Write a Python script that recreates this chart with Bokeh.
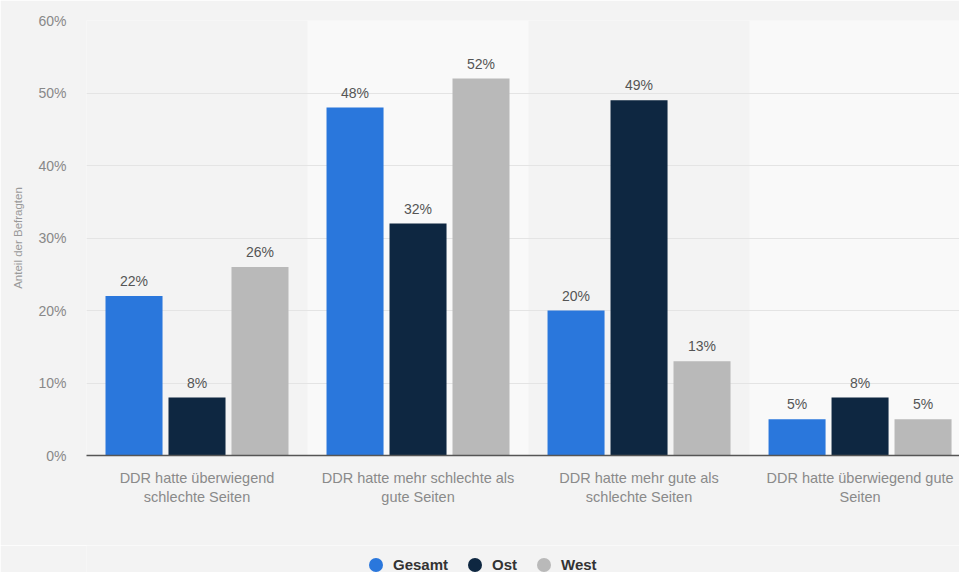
from bokeh.plotting import figure
from bokeh.layouts import column
from bokeh.models import (ColumnDataSource, FixedTicker, PrintfTickFormatter,
                          Legend, LegendItem, Range1d)
from bokeh.transform import dodge
from bokeh.embed import file_html
from bokeh.resources import INLINE
from bokeh.core.properties import value

# ---- data ----
categories = [
    "DDR hatte überwiegend\nschlechte Seiten",
    "DDR hatte mehr schlechte als\ngute Seiten",
    "DDR hatte mehr gute als\nschlechte Seiten",
    "DDR hatte überwiegend gute\nSeiten",
]
series = ["Gesamt", "Ost", "West"]
gesamt = [22, 48, 20, 5]
ost = [8, 32, 49, 8]
west = [26, 52, 13, 5]
y_ticks = [0, 10, 20, 30, 40, 50, 60]

colors = ["#2a77dc", "#0e2741", "#b9b9b9"]
FONT = "Liberation Sans"
BG = "#f3f3f3"

xc = [i + 0.5 for i in range(len(categories))]
data = dict(x=xc, Gesamt=gesamt, Ost=ost, West=west,
            lo=[i for i in range(len(categories))],
            hi=[i + 1 for i in range(len(categories))])
for s in series:
    data[s + "_lbl"] = [f"{v}%" for v in data[s]]
src = ColumnDataSource(data)

chart = figure(width=959, height=545, output_backend="svg", toolbar_location=None,
               x_range=Range1d(0, 3.95), y_range=Range1d(0, 60),
               min_border_left=86, min_border_right=0, min_border_top=20,
               min_border_bottom=90)
chart.background_fill_color = BG
chart.border_fill_color = BG
chart.outline_line_color = None

# alternating category bands
band_src = ColumnDataSource(dict(lo=[data["lo"][i] for i in (1, 3)],
                                 hi=[data["hi"][i] for i in (1, 3)]))
chart.quad(left="lo", right="hi", bottom=0, top=60, source=band_src,
           fill_color="#f9f9f9", line_color=None, level="underlay")

offsets = [-0.285, 0.0, 0.285]
for s, c, off in zip(series, colors, offsets):
    chart.vbar(x=dodge("x", off), top=s, width=0.258, source=src,
               fill_color=c, line_color=None)
    chart.text(x=dodge("x", off), y=s, text=s + "_lbl", source=src,
               text_align="center", text_baseline="bottom", y_offset=-7,
               text_font=value(FONT), text_font_size="14px", text_color="#555555")

# axes
chart.xaxis.ticker = FixedTicker(ticks=xc)
chart.xaxis.major_label_overrides = {x: c for x, c in zip(xc, categories)}
chart.xaxis.major_tick_line_color = None
chart.xaxis.minor_tick_line_color = None
chart.xaxis.axis_line_color = "#555555"
chart.xaxis.axis_line_width = 1.5
chart.xaxis.major_label_standoff = 8
chart.xaxis.major_label_text_font = FONT
chart.xaxis.major_label_text_font_size = "14.5px"
chart.xaxis.major_label_text_color = "#8a8a8a"

chart.yaxis.ticker = FixedTicker(ticks=y_ticks)
chart.yaxis.formatter = PrintfTickFormatter(format="%d%%")
chart.yaxis.axis_line_color = None
chart.yaxis.major_tick_line_color = None
chart.yaxis.minor_tick_line_color = None
chart.yaxis.major_label_standoff = 14
chart.yaxis.major_label_text_font = FONT
chart.yaxis.major_label_text_font_size = "14px"
chart.yaxis.major_label_text_color = "#888888"
chart.yaxis.axis_label = "Anteil der Befragten"
chart.yaxis.axis_label_text_font = FONT
chart.yaxis.axis_label_text_font_size = "11.5px"
chart.yaxis.axis_label_text_font_style = "normal"
chart.yaxis.axis_label_text_color = "#999999"
chart.yaxis.axis_label_standoff = 11

chart.xgrid.grid_line_color = None
chart.ygrid.grid_line_color = "#e4e4e4"
chart.ygrid.grid_line_width = 1

# legend strip
leg_fig = figure(width=959, height=27, output_backend="svg", toolbar_location=None,
                 x_range=Range1d(0, 1), y_range=Range1d(0, 1),
                 x_axis_location=None, y_axis_location=None, min_border=0)
leg_fig.background_fill_color = BG
leg_fig.border_fill_color = BG
leg_fig.outline_line_color = None
leg_fig.grid.visible = False
renderers = []
for s, c in zip(series, colors):
    r = leg_fig.scatter(x=[float("nan")], y=[float("nan")], marker="circle", size=14,
                        fill_color=c, line_color=None)
    renderers.append(r)

legend = Legend(items=[LegendItem(label=s, renderers=[r]) for s, r in zip(series, renderers)],
                orientation="horizontal", location=(272, -10))
legend.glyph_width = 35
legend.glyph_height = 35
legend.label_height = 35
legend.label_standoff = 0
legend.spacing = 9
legend.padding = 0
legend.margin = 0
legend.border_line_color = None
legend.background_fill_alpha = 0
legend.label_text_font = FONT
legend.label_text_font_size = "15px"
legend.label_text_font_style = "bold"
legend.label_text_color = "#333333"
leg_fig.add_layout(legend)

p = column(chart, leg_fig, spacing=0)
open("out.html", "w").write(file_html(p, INLINE))
